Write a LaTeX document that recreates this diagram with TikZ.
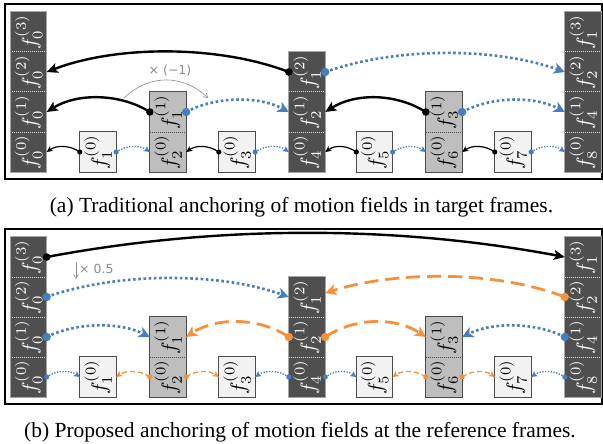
\documentclass[tikz,border=0pt]{standalone}
\usepackage[no-math]{fontspec}
\setmainfont{Liberation Serif}
\newfontfamily\lblfont{DejaVu Sans}
\usetikzlibrary{arrows.meta}
\definecolor{dk}{HTML}{4F4F4F}
\definecolor{md}{HTML}{BEBEBE}
\definecolor{lt}{HTML}{F2F2F2}
\definecolor{bl}{RGB}{72,125,192}
\definecolor{og}{RGB}{245,145,60}
\definecolor{gl}{HTML}{8C8C8C}
\newcommand\fcell[6]{\node[#2] (#1) at (#3,#4) {\rotatebox{90}{\scalebox{2.1}{$f_{#5}^{(#6)}$}}};}
\tikzset{
  cellbase/.style={minimum width=36pt, minimum height=40pt, inner sep=0pt},
  cD/.style={cellbase, fill=dk, text=white},
  cM/.style={cellbase, fill=md, text=black},
  cL/.style={cellbase, fill=lt, text=black},
  bD/.style={draw=gray!70, line width=0.8pt},
  bM/.style={draw=black!70, line width=0.8pt},
  dvD/.style={draw=white!85!black, line width=0.6pt, dash pattern=on 1pt off 1pt},
  dvM/.style={draw=black!70, line width=0.6pt, dash pattern=on 1pt off 1pt},
  thickK/.style={draw=black, line width=2.4pt, -{Stealth[length=11pt,width=10pt,inset=2.5pt]}},
  thinK/.style={draw=black, line width=1.2pt, -{Stealth[length=6pt,width=5.5pt,inset=1.5pt]}},
  thickB/.style={draw=bl, line width=2.6pt, dash pattern=on 2.6pt off 2.6pt, -{Stealth[length=11pt,width=11pt,inset=3pt]}},
  thinB/.style={draw=bl, line width=1.3pt, dash pattern=on 1.3pt off 1.5pt, -{Stealth[length=6pt,width=6pt,inset=1.5pt]}},
  thickO/.style={draw=og, line width=2.8pt, dash pattern=on 14pt off 7pt, -{Stealth[length=11pt,width=11pt,inset=3pt]}},
  thinO/.style={draw=og, line width=1.3pt, dash pattern=on 5pt off 3pt, -{Stealth[length=6pt,width=6pt,inset=1.5pt]}},
  garr/.style={draw=gl, line width=0.6pt, -{Straight Barb[length=4pt,width=5pt]}},
  lbl/.style={text=gl, font=\lblfont\fontsize{12.5}{14}\selectfont, inner sep=0pt},
  captxt/.style={font=\fontsize{21.5}{24}\selectfont, inner sep=0pt},
  frm/.style={draw=black, line width=1.2pt}
}
\begin{document}
\begin{tikzpicture}[x=1pt,y=-1pt]
\useasboundingbox (0,0) rectangle (603,444);
\fill[white] (0,0) rectangle (603,444);
% ---------------- panel (a) ----------------
\draw[frm] (5,4) rectangle (602,179);
\fcell{a00}{cD}{28.5}{152}{0}{0}
\fcell{a01}{cD}{28.5}{112}{0}{1}
\fcell{a02}{cD}{28.5}{72}{0}{2}
\fcell{a03}{cD}{28.5}{32}{0}{3}
\fcell{a10}{cL}{98}{152}{1}{0}
\fcell{a20}{cM}{168}{152}{2}{0}
\fcell{a21}{cM}{168}{112}{1}{1}
\fcell{a30}{cL}{237}{152}{3}{0}
\fcell{a40}{cD}{307}{152}{4}{0}
\fcell{a41}{cD}{307}{112}{2}{1}
\fcell{a42}{cD}{307}{72}{1}{2}
\fcell{a50}{cL}{374.5}{152}{5}{0}
\fcell{a60}{cM}{444}{152}{6}{0}
\fcell{a61}{cM}{444}{112}{3}{1}
\fcell{a70}{cL}{513}{152}{7}{0}
\fcell{a80}{cD}{583}{152}{8}{0}
\fcell{a81}{cD}{583}{112}{4}{1}
\fcell{a82}{cD}{583}{72}{2}{2}
\fcell{a83}{cD}{583}{32}{1}{3}
\draw[dvD] (a00.north west) -- (a00.north east);
\draw[dvD] (a01.north west) -- (a01.north east);
\draw[dvD] (a02.north west) -- (a02.north east);
\draw[bD] (a00.south west) rectangle (a03.north east);
\draw[bM] (a10.south west) rectangle (a10.north east);
\draw[dvM] (a20.north west) -- (a20.north east);
\draw[bM] (a20.south west) rectangle (a21.north east);
\draw[bM] (a30.south west) rectangle (a30.north east);
\draw[dvD] (a40.north west) -- (a40.north east);
\draw[dvD] (a41.north west) -- (a41.north east);
\draw[bD] (a40.south west) rectangle (a42.north east);
\draw[bM] (a50.south west) rectangle (a50.north east);
\draw[dvM] (a60.north west) -- (a60.north east);
\draw[bM] (a60.south west) rectangle (a61.north east);
\draw[bM] (a70.south west) rectangle (a70.north east);
\draw[dvD] (a80.north west) -- (a80.north east);
\draw[dvD] (a81.north west) -- (a81.north east);
\draw[dvD] (a82.north west) -- (a82.north east);
\draw[bD] (a80.south west) rectangle (a83.north east);
% arrows (a)
\draw[thickK] (a42.west) .. controls +(-70,-27) and +(70,-27) .. (a02.east);
\draw[thickK] (a21.west) .. controls +(-30,-19) and +(30,-19) .. (a01.east);
\draw[thickB] (a21.east) .. controls +(30,-16) and +(-30,-16) .. (a41.west);
\draw[thickB] (a42.east) .. controls +(70,-25) and +(-70,-25) .. (a82.west);
\draw[thickK] (a61.west) .. controls +(-30,-19) and +(30,-19) .. (a41.east);
\draw[thickB] (a61.east) .. controls +(30,-16) and +(-30,-16) .. (a81.west);
\draw[thinK] (a10.west) .. controls +(-10,-7) and +(10,-7) .. (a00.east);
\draw[thinB] (a10.east) .. controls +(10,-7) and +(-10,-7) .. (a20.west);
\draw[thinK] (a30.west) .. controls +(-10,-7) and +(10,-7) .. (a20.east);
\draw[thinB] (a30.east) .. controls +(10,-7) and +(-10,-7) .. (a40.west);
\draw[thinK] (a50.west) .. controls +(-10,-7) and +(10,-7) .. (a40.east);
\draw[thinB] (a50.east) .. controls +(10,-7) and +(-10,-7) .. (a60.west);
\draw[thinK] (a70.west) .. controls +(-10,-7) and +(10,-7) .. (a60.east);
\draw[thinB] (a70.east) .. controls +(10,-7) and +(-10,-7) .. (a80.west);
\fill[black] (a42.west) circle (3.8pt);
\fill[black] (a21.west) circle (3.8pt);
\fill[black] (a61.west) circle (3.8pt);
\fill[bl] (a21.east) circle (4.2pt);
\fill[bl] (a42.east) circle (4.2pt);
\fill[bl] (a61.east) circle (4.2pt);
\foreach \n in {a10,a30,a50,a70}{
  \fill[black] (\n.west) circle (2.6pt);
  \fill[bl] (\n.east) circle (2.6pt);
}
\coordinate (g1s) at (124,98);
\coordinate (g1e) at (208,98);
\draw[garr] (g1s) .. controls +(25,-24) and +(-25,-24) .. (g1e);
\node[lbl] (m1) at (170,71) {× (−1)};
\node[captxt] (capa) at (301.5,207) {(a) Traditional anchoring of motion fields in target frames.};
% ---------------- panel (b) ----------------
\draw[frm] (5,229) rectangle (602,404);
\fcell{b00}{cD}{28.5}{377}{0}{0}
\fcell{b01}{cD}{28.5}{337}{0}{1}
\fcell{b02}{cD}{28.5}{297}{0}{2}
\fcell{b03}{cD}{28.5}{257}{0}{3}
\fcell{b10}{cL}{98}{377}{1}{0}
\fcell{b20}{cM}{168}{377}{2}{0}
\fcell{b21}{cM}{168}{337}{1}{1}
\fcell{b30}{cL}{237}{377}{3}{0}
\fcell{b40}{cD}{307}{377}{4}{0}
\fcell{b41}{cD}{307}{337}{2}{1}
\fcell{b42}{cD}{307}{297}{1}{2}
\fcell{b50}{cL}{374.5}{377}{5}{0}
\fcell{b60}{cM}{444}{377}{6}{0}
\fcell{b61}{cM}{444}{337}{3}{1}
\fcell{b70}{cL}{513}{377}{7}{0}
\fcell{b80}{cD}{583}{377}{8}{0}
\fcell{b81}{cD}{583}{337}{4}{1}
\fcell{b82}{cD}{583}{297}{2}{2}
\fcell{b83}{cD}{583}{257}{1}{3}
\draw[dvD] (b00.north west) -- (b00.north east);
\draw[dvD] (b01.north west) -- (b01.north east);
\draw[dvD] (b02.north west) -- (b02.north east);
\draw[bD] (b00.south west) rectangle (b03.north east);
\draw[bM] (b10.south west) rectangle (b10.north east);
\draw[dvM] (b20.north west) -- (b20.north east);
\draw[bM] (b20.south west) rectangle (b21.north east);
\draw[bM] (b30.south west) rectangle (b30.north east);
\draw[dvD] (b40.north west) -- (b40.north east);
\draw[dvD] (b41.north west) -- (b41.north east);
\draw[bD] (b40.south west) rectangle (b42.north east);
\draw[bM] (b50.south west) rectangle (b50.north east);
\draw[dvM] (b60.north west) -- (b60.north east);
\draw[bM] (b60.south west) rectangle (b61.north east);
\draw[bM] (b70.south west) rectangle (b70.north east);
\draw[dvD] (b80.north west) -- (b80.north east);
\draw[dvD] (b81.north west) -- (b81.north east);
\draw[dvD] (b82.north west) -- (b82.north east);
\draw[bD] (b80.south west) rectangle (b83.north east);
% arrows (b)
\draw[thickK] (b03.east) .. controls +(170,-32) and +(-170,-32) .. (b83.west);
\draw[thickB] (b02.east) .. controls +(70,-25) and +(-70,-25) .. (b42.west);
\draw[thickB] (b01.east) .. controls +(30,-15) and +(-30,-15) .. (b21.west);
\draw[thickO] (b41.west) .. controls +(-30,-20) and +(30,-20) .. (b21.east);
\draw[thickO] (b41.east) .. controls +(30,-20) and +(-30,-20) .. (b61.west);
\draw[thickO] (b82.west) .. controls +(-70,-27) and +(70,-22) .. ([yshift=4pt]b42.east);
\draw[thickB] (b81.west) .. controls +(-30,-15) and +(30,-15) .. (b61.east);
\draw[thinB] (b00.east) .. controls +(10,-7) and +(-10,-7) .. (b10.west);
\draw[thinO] (b20.west) .. controls +(-10,-7) and +(10,-7) .. (b10.east);
\draw[thinO] (b20.east) .. controls +(10,-7) and +(-10,-7) .. (b30.west);
\draw[thinB] (b40.west) .. controls +(-10,-7) and +(10,-7) .. (b30.east);
\draw[thinB] (b40.east) .. controls +(10,-7) and +(-10,-7) .. (b50.west);
\draw[thinO] (b60.west) .. controls +(-10,-7) and +(10,-7) .. (b50.east);
\draw[thinO] (b60.east) .. controls +(10,-7) and +(-10,-7) .. (b70.west);
\draw[thinB] (b80.west) .. controls +(-10,-7) and +(10,-7) .. (b70.east);
\fill[black] (b03.east) circle (3.8pt);
\fill[bl] (b02.east) circle (4.2pt);
\fill[bl] (b01.east) circle (4.2pt);
\fill[og] (b41.west) circle (4.2pt);
\fill[og] (b41.east) circle (4.2pt);
\fill[og] (b82.west) circle (4.2pt);
\fill[bl] (b81.west) circle (4.2pt);
\fill[bl] (b00.east) circle (2.6pt);
\fill[og] (b20.west) circle (2.6pt);
\fill[og] (b20.east) circle (2.6pt);
\fill[bl] (b40.west) circle (2.6pt);
\fill[bl] (b40.east) circle (2.6pt);
\fill[og] (b60.west) circle (2.6pt);
\fill[og] (b60.east) circle (2.6pt);
\fill[bl] (b80.west) circle (2.6pt);
\coordinate (g2s) at (76,262);
\coordinate (g2e) at (76,279);
\draw[garr] (g2s) -- (g2e);
\node[lbl, anchor=west] (m2) at (79,269) {× 0.5};
\node[captxt] (capb) at (300,432) {(b) Proposed anchoring of motion fields at the reference frames.};
\end{tikzpicture}
\end{document}
